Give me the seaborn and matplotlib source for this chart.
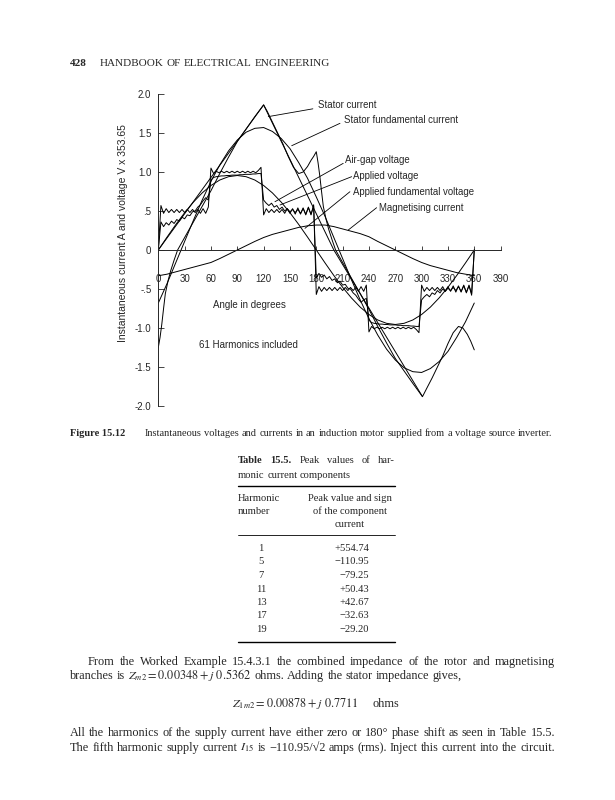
import numpy as np
import seaborn as sns
import matplotlib.pyplot as plt

# ---- chart data (angle in degrees, values in A or V divided by 353.65) ----
ang3 = np.arange(0, 361, 3)
ang10 = np.arange(0, 361, 10)

applied_voltage = [
    0.00, 0.57, 0.47, 0.53, 0.48, 0.52, 0.48, 0.52, 0.48, 0.52, 0.48, 0.52, 0.48, 0.52, 0.48, 0.52, 0.47, 0.53, 0.47, 0.55,
    1.05, 0.98, 1.01, 0.99, 1.01, 0.99, 1.01, 0.99, 1.01, 0.99, 1.01, 0.99, 1.01, 0.99, 1.01, 0.99, 1.01, 0.99, 1.02, 1.06,
    0.45, 0.53, 0.48, 0.52, 0.48, 0.52, 0.48, 0.52, 0.47, 0.53, 0.47, 0.53, 0.46, 0.54, 0.46, 0.54, 0.45, 0.55, 0.45, 0.58,
    -0.57, -0.47, -0.53, -0.48, -0.52, -0.48, -0.52, -0.48, -0.52, -0.48, -0.52, -0.48, -0.52, -0.48, -0.52, -0.48, -0.53, -0.47, -0.53, -0.45,
    -1.05, -0.98, -1.01, -0.99, -1.01, -0.99, -1.01, -0.99, -1.01, -0.99, -1.01, -0.99, -1.01, -0.99, -1.01, -0.99, -1.01, -0.99, -1.02, -1.06,
    -0.45, -0.53, -0.48, -0.52, -0.48, -0.52, -0.48, -0.52, -0.47, -0.53, -0.47, -0.53, -0.46, -0.54, -0.46, -0.54, -0.45, -0.55, -0.45, -0.58,
    0.00,
]
airgap_voltage = [
    0.00, 0.36, 0.30, 0.35, 0.32, 0.37, 0.34, 0.39, 0.37, 0.42, 0.40, 0.45, 0.44, 0.49, 0.50, 0.55, 0.58, 0.63, 0.67, 0.64,
    0.90, 0.93, 0.94, 0.945, 0.95, 0.95, 0.955, 0.955, 0.96, 0.96, 0.96, 0.965, 0.965, 0.97, 0.97, 0.97, 0.975, 0.975, 0.98, 0.98,
    0.64, 0.60, 0.57, 0.60, 0.55, 0.57, 0.52, 0.55, 0.50, 0.53, 0.49, 0.52, 0.48, 0.52, 0.47, 0.53, 0.46, 0.54, 0.46, 0.56,
    -0.36, -0.30, -0.35, -0.32, -0.37, -0.34, -0.39, -0.37, -0.42, -0.40, -0.45, -0.44, -0.49, -0.50, -0.55, -0.58, -0.63, -0.67, -0.64, -0.62,
    -0.90, -0.93, -0.94, -0.945, -0.95, -0.95, -0.955, -0.955, -0.96, -0.96, -0.96, -0.965, -0.965, -0.97, -0.97, -0.97, -0.975, -0.975, -0.98, -0.98,
    -0.64, -0.60, -0.57, -0.60, -0.55, -0.57, -0.52, -0.55, -0.50, -0.53, -0.49, -0.52, -0.48, -0.52, -0.47, -0.53, -0.46, -0.54, -0.46, -0.56,
    0.00,
]
applied_fund_voltage = [
    0.0, 0.166, 0.327, 0.478, 0.614, 0.732, 0.827, 0.897, 0.940, 0.955, 0.940, 0.897, 0.827, 0.732, 0.614, 0.478, 0.327, 0.166,
    0.0, -0.166, -0.327, -0.478, -0.614, -0.732, -0.827, -0.897, -0.940, -0.955, -0.940, -0.897, -0.827, -0.732, -0.614, -0.478,
    -0.327, -0.166, 0.0,
]
stator_fund_current = [
    -0.68, -0.43, -0.16, 0.11, 0.38, 0.64, 0.88, 1.09, 1.27, 1.41, 1.51, 1.56, 1.57, 1.52, 1.43, 1.30, 1.12, 0.92,
    0.68, 0.43, 0.16, -0.11, -0.38, -0.64, -0.88, -1.09, -1.27, -1.41, -1.51, -1.56, -1.57, -1.52, -1.43, -1.30,
    -1.12, -0.92, -0.68,
]
magnetising_current = [
    -0.33, -0.31, -0.28, -0.25, -0.22, -0.19, -0.16, -0.11, -0.055, 0.0, 0.055, 0.11, 0.16, 0.20, 0.23, 0.26, 0.29, 0.31,
    0.32, 0.32, 0.30, 0.27, 0.24, 0.21, 0.17, 0.11, 0.055, 0.0, -0.055, -0.11, -0.16, -0.20, -0.23, -0.26,
    -0.29, -0.31, -0.33,
]
stator_current_deg = [0, 2, 4, 6, 8, 11, 14, 18, 22, 30, 40, 50, 60, 70, 80, 90, 100, 110, 120,
                      124, 130, 136, 142, 148, 154, 160, 165, 170, 174, 177, 180,
                      182, 184, 186, 188, 191, 194, 198, 202, 210, 220, 230, 240, 250, 260, 270, 280, 290, 301,
                      306, 312, 318, 324, 330, 336, 342, 347, 352, 356, 360]
stator_current = [-1.25, -1.12, -0.95, -0.75, -0.56, -0.40, -0.27, -0.13, 0.0, 0.16, 0.36, 0.56, 0.76, 0.98, 1.19, 1.39, 1.55, 1.71, 1.86,
                  1.78, 1.64, 1.50, 1.36, 1.20, 1.06, 0.98, 1.00, 1.07, 1.15, 1.20, 1.26,
                  1.12, 0.95, 0.75, 0.56, 0.40, 0.27, 0.13, 0.0, -0.16, -0.36, -0.56, -0.76, -0.98, -1.19, -1.39, -1.55, -1.71, -1.88,
                  -1.77, -1.64, -1.50, -1.36, -1.20, -1.06, -0.98, -1.00, -1.08, -1.17, -1.28]
ramp_deg = [0, 120, 200, 301]
ramp_current = [0.0, 1.86, 0.0, -1.88]

x_ticks = list(range(0, 391, 30))
y_ticks = [-2.0, -1.5, -1.0, -0.5, 0.0, 0.5, 1.0, 1.5, 2.0]
y_ticklabels = ["-2.0", "-1.5", "-1.0", "-.5", "0", ".5", "1.0", "1.5", "2.0"]

harmonic_number = ["1", "5", "7", "11", "13", "17", "19"]
harmonic_peak = ["+554.74", "\u2212110.95", "\u221279.25", "+50.43", "+42.67", "\u221232.63", "\u221229.20"]

# ---- figure ----
sns.set_style("ticks")
plt.rcParams["font.family"] = ["Liberation Sans", "DejaVu Sans"]
plt.rcParams["mathtext.fontset"] = "stix"

W, H = 615, 800
fig = plt.figure(figsize=(W / 100, H / 100), dpi=100)
ax = fig.add_axes([158.3 / W, 394 / H, 342.3 / W, 312 / H])

kw = dict(color="black", linewidth=0.7, estimator=None, sort=False, legend=False, ax=ax)
sns.lineplot(x=ang3, y=applied_voltage, **kw)
sns.lineplot(x=ang3, y=airgap_voltage, **kw)
sns.lineplot(x=ang10, y=applied_fund_voltage, **kw)
sns.lineplot(x=ang10, y=stator_fund_current, **kw)
sns.lineplot(x=ang10, y=magnetising_current, **kw)
sns.lineplot(x=stator_current_deg, y=stator_current, **kw)
sns.lineplot(x=ramp_deg, y=ramp_current, **kw)

ax.set_xlim(0, 390)
ax.set_ylim(-2, 2)
ax.spines["top"].set_visible(False)
ax.spines["right"].set_visible(False)
ax.spines["bottom"].set_position(("data", 0))
ax.spines["left"].set_linewidth(0.7)
ax.spines["bottom"].set_linewidth(0.7)
ax.set_xticks(x_ticks)
ax.set_xticklabels([str(t) for t in x_ticks])
ax.set_yticks(y_ticks)
ax.set_yticklabels(y_ticklabels)
ax.tick_params(axis="x", direction="in", length=3, width=0.6, pad=17, labelsize=7)
ax.tick_params(axis="y", direction="in", length=4, width=0.6, pad=5, labelsize=7)
ax.set_xlabel("")
ax.set_ylabel("")

labels = [
    ("Stator current", (182.3, 1.86), (176.1, 1.81), (125.3, 1.71)),
    ("Stator fundamental current", (211.9, 1.667), (207.0, 1.624), (152.0, 1.337)),
    ("Air-gap voltage", (212.6, 1.154), (210.7, 1.111), (132.9, 0.619)),
    ("Applied voltage", (221.4, 0.949), (220.3, 0.94), (138.6, 0.577)),
    ("Applied fundamental voltage", (221.4, 0.748), (218.3, 0.747), (167.1, 0.278)),
    ("Magnetising current", (250.9, 0.543), (248.7, 0.542), (216.4, 0.256)),
]
for txt, pos, a, b in labels:
    ax.text(pos[0], pos[1], txt, fontsize=6.9, ha="left", va="center")
    ax.annotate("", xy=b, xytext=a,
                arrowprops=dict(arrowstyle="-", lw=0.6, color="black", shrinkA=0, shrinkB=0))
ax.text(103.3, -0.705, "Angle in degrees", fontsize=7, ha="center", va="center")
ax.text(102.7, -1.22, "61 Harmonics included", fontsize=7, ha="center", va="center")

fig.text(123 / W, 1 - 233 / H, "Instantaneous current A and voltage V x 353.65",
         rotation=90, ha="center", va="center", fontsize=7.5)

# ---- page text around the chart ----
serif = ["Liberation Serif", "DejaVu Serif"]
renderer = fig.canvas.get_renderer()


def put_line(words, x0, y, size, x1=None, space=0.25):
    # words: list of (text, weight); y is the baseline in pixels from the top
    texts = [fig.text(0, 1 - y / H, w, fontsize=size, fontweight=wt, family=serif, va="baseline")
             for w, wt in words]
    widths = [t.get_window_extent(renderer).width for t in texts]
    if x1 is not None and len(words) > 1:
        gap = (x1 - x0 - sum(widths)) / (len(words) - 1)
    else:
        gap = space * size * 100 / 72
    x = x0
    for t, w in zip(texts, widths):
        t.set_x(x / W)
        x += w + gap


def words_of(s, weight="normal"):
    return [(w, weight) for w in s.split(" ")]


put_line([("428", "bold")], 70, 66, 8.0)
put_line(words_of("HANDBOOK OF ELECTRICAL ENGINEERING"), 100, 66, 8.0)

put_line([("Figure 15.12", "bold")], 70, 436, 7.45)
put_line(words_of("Instantaneous voltages and currents in an induction motor supplied from a voltage source inverter."),
         145, 436, 7.45)

# table 15.5
put_line([("Table", "bold"), ("15.5.", "bold")] + words_of("Peak values of har-"), 238, 463, 7.6, x1=395)
put_line(words_of("monic current components"), 238, 478, 7.6)
fig.add_artist(plt.Line2D([238 / W, 395 / W], [1 - 486 / H, 1 - 486 / H], color="black", lw=1.0))
put_line(words_of("Harmonic"), 238, 501, 7.6)
put_line(words_of("number"), 238, 514, 7.6)
for txt, yy in [("Peak value and sign", 501), ("of the component", 514), ("current", 527)]:
    fig.text(350 / W, 1 - yy / H, txt, fontsize=7.6, family=serif, ha="center", va="baseline")
fig.add_artist(plt.Line2D([238 / W, 395 / W], [1 - 535 / H, 1 - 535 / H], color="black", lw=0.6))
for i, (n, v) in enumerate(zip(harmonic_number, harmonic_peak)):
    yy = 551 + i * 13.5
    fig.text(261 / W, 1 - yy / H, n, fontsize=7.6, family=serif, ha="center", va="baseline")
    fig.text(369 / W, 1 - yy / H, v, fontsize=7.6, family=serif, ha="right", va="baseline")
fig.add_artist(plt.Line2D([238 / W, 395 / W], [1 - 642 / H, 1 - 642 / H], color="black", lw=1.0))

# body text
put_line(words_of("From the Worked Example 15.4.3.1 the combined impedance of the rotor and magnetising"),
         88, 665, 8.8, x1=555)
put_line(words_of("branches is") + [(r"$Z_{m2} = 0.00348 + j\ 0.5362$", "normal")]
         + words_of("ohms. Adding the stator impedance gives,"), 70, 679, 8.8)
put_line([(r"$Z_{1m2} = 0.00878 + j\ 0.7711$", "normal")], 232, 707, 8.8)
put_line([("ohms", "normal")], 373, 707, 8.8)
put_line(words_of("All the harmonics of the supply current have either zero or 180\u00b0 phase shift as seen in Table 15.5."),
         70, 736, 8.8, x1=555)
put_line(words_of("The fifth harmonic supply current") + [(r"$I_{15}$", "normal"), ("is", "normal"),
         ("\u2212110.95/\u221a2", "normal")] + words_of("amps (rms). Inject this current into the circuit."),
         70, 751, 8.8, x1=555)

fig.savefig("out.png", dpi=100)
